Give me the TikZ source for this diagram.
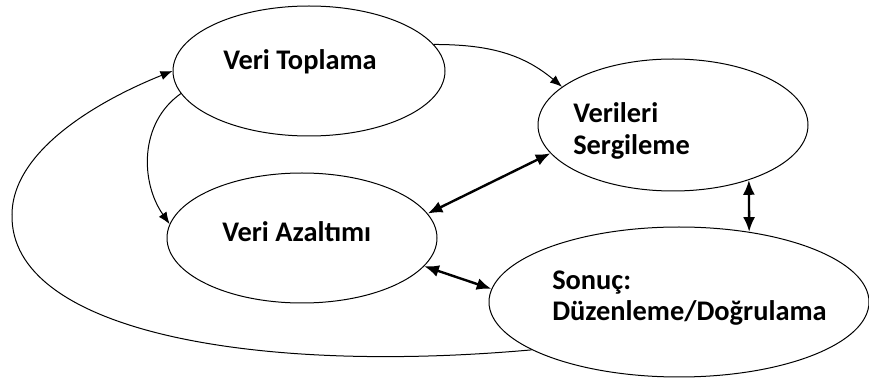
\documentclass[tikz,border=0pt]{standalone}
\usepackage{fontspec}
\setmainfont{Carlito}
\usetikzlibrary{shapes.geometric,arrows.meta}
\tikzset{
    surec/.style={draw, ellipse, inner sep=0pt, line width=0.75pt},
    yazi/.style={font=\fontsize{21.3}{24}\selectfont\bfseries, align=left, anchor=base west, inner sep=0pt},
    ok/.style={-{Latex[length=9pt,width=7pt]}, line width=0.75pt},
    ciftok/.style={{Latex[length=11pt,width=9pt]}-{Latex[length=11pt,width=9pt]}, line width=1.8pt},
}
\begin{document}
\begin{tikzpicture}[x=0.75pt,y=0.75pt]
    \useasboundingbox (0,0) rectangle (869,-381);
    %draw ellipses
    \node[surec, minimum width=204pt, minimum height=97.5pt] (toplama) at (309,-71) {};
    \node[surec, minimum width=202.5pt, minimum height=99pt] (sergileme) at (673,-125) {};
    \node[surec, minimum width=202.5pt, minimum height=97.5pt] (azaltim) at (302,-238) {};
    \node[surec, minimum width=285pt, minimum height=112.5pt] (sonuc) at (679,-302) {};
    %draw texts (base = last line)
    \node[yazi] (toplama-yazi) at (223,-70) {Veri Toplama};
    \node[yazi] (sergileme-yazi) at (573,-155) {Verileri\\Sergileme};
    \node[yazi] (azaltim-yazi) at (222,-242) {Veri Azaltımı};
    \node[yazi] (sonuc-yazi) at (552,-321) {Sonuç:\\Düzenleme/Doğrulama};
    %draw arrows
    \draw [ok] (toplama.12) to[out=0,in=140] (sergileme.161);
    \draw [ok] (toplama.190) to[out=215,in=125] (azaltim.174);
    \draw [ok] (sonuc.198) .. controls (250,-375) and (10,-330) .. (12,-215)
        .. controls (12,-150) and (100,-100) .. (toplama.west);
    \draw [ciftok] (azaltim.11) -- (sergileme.193);
    \draw [ciftok] (azaltim.-13) -- (sonuc.176);
    \draw [ciftok] (sergileme.-36) -- (sonuc.45);
\end{tikzpicture}
\end{document}
